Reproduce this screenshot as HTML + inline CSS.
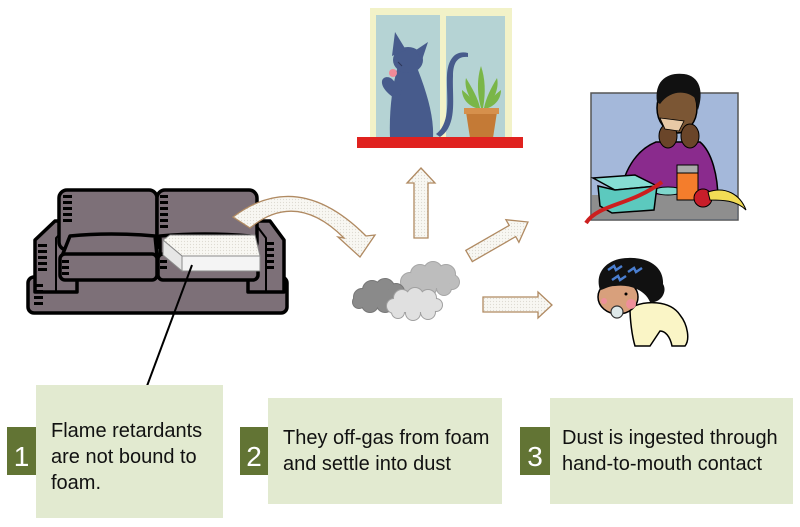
<!DOCTYPE html>
<html><head><meta charset="utf-8"><style>
html,body{margin:0;padding:0;background:#fff;}
svg{display:block;}
text{font-family:"Liberation Sans",Arial,sans-serif;}
</style></head><body>
<svg width="800" height="527" viewBox="0 0 800 527" xmlns="http://www.w3.org/2000/svg">
<defs>
<pattern id="dots" width="3" height="3" patternUnits="userSpaceOnUse">
<rect width="3" height="3" fill="#f8f7f2"/><circle cx="1.5" cy="1.5" r="0.6" fill="#dedbd2"/>
</pattern>
</defs>

<!-- WINDOW -->
<rect x="370" y="8" width="142" height="131" fill="#f2f2c8"/>
<rect x="376" y="15" width="64" height="123" fill="#b5d3d4"/>
<rect x="446" y="16" width="59" height="122" fill="#b5d3d4"/>
<!-- cat -->
<g fill="#475b8c">
<path d="M436,134 C452,122 446,95 447,75 C448,58 456,50 468,53 L468,57 C458,56 453,62 453,76 C452,98 458,125 440,137 Z"/>
<path d="M398,66 C392,86 389,112 390,138 L433,138 C434,118 428,96 418,70 Z"/>
<ellipse cx="408" cy="60" rx="15" ry="13"/>
<path d="M395,32 L392,56 L406,50 Z"/>
<path d="M428,42 L416,50 L422,60 Z"/>
<path d="M398,100 C390,96 381,88 382,81 C383,76 390,76 393,80 L402,90 Z"/>
</g>
<circle cx="393" cy="73" r="4" fill="#f08a98"/>
<path d="M398,62 L402,66" stroke="#2b3658" stroke-width="1"/>
<!-- plant -->
<g fill="#7ab648">
<path d="M481,108 C476,90 478,75 481,66 C485,78 486,92 483,108 Z"/>
<path d="M478,108 C468,98 464,86 466,78 C472,88 478,98 480,108 Z"/>
<path d="M486,108 C496,98 499,86 497,78 C491,88 486,98 484,108 Z"/>
<path d="M476,108 C465,104 462,96 462,90 C470,96 474,102 478,108 Z"/>
<path d="M488,108 C498,104 501,96 501,90 C493,96 489,102 486,108 Z"/>
</g>
<path d="M466,112 L497,112 L493,138 L470,138 Z" fill="#c47a36"/>
<rect x="464" y="108" width="35" height="6" fill="#d6904c"/>
<rect x="357" y="137" width="166" height="11" fill="#e0221f"/>

<!-- COUCH -->
<g stroke="#000" stroke-width="3.5" stroke-linejoin="round" fill="#7d7078">
<rect x="28" y="277" width="259" height="36" rx="6"/>
<path d="M35,240 L55,221 L72,221 Q77,221 77,226 L77,292 L35,292 Z"/>
<path d="M35,240 L55,221 L72,221 L56,238 L56,292" fill="none" stroke-width="2"/>
<path d="M284,240 L270,221 L253,221 Q248,221 248,226 L248,292 L284,292 Z"/>
<path d="M284,240 L270,221 L253,221 L266,238 L266,292" fill="none" stroke-width="2"/>
<rect x="59" y="190" width="98" height="60" rx="8"/>
<rect x="157" y="190" width="100" height="60" rx="8"/>
<path d="M70,236 Q110,232 155,236 L157,256 L62,256 Z"/>
<rect x="60" y="254" width="97" height="26" rx="5"/>
<path d="M160,236 Q205,232 250,236 L257,256 L160,256 Z"/>
<rect x="158" y="254" width="100" height="26" rx="5"/>
</g>
<g fill="#000">
<rect x="63" y="195" width="9" height="3"/><rect x="63" y="201" width="9" height="3"/><rect x="63" y="207" width="9" height="3"/><rect x="63" y="213" width="9" height="3"/><rect x="63" y="219" width="9" height="3"/>
<rect x="160" y="195" width="8" height="3"/><rect x="160" y="201" width="8" height="3"/><rect x="160" y="207" width="8" height="3"/><rect x="160" y="213" width="8" height="3"/><rect x="160" y="219" width="8" height="3"/><rect x="160" y="225" width="8" height="3"/>
<rect x="38" y="244" width="9" height="3"/><rect x="38" y="250" width="9" height="3"/><rect x="38" y="256" width="9" height="3"/><rect x="38" y="262" width="9" height="3"/><rect x="38" y="268" width="9" height="3"/>
<rect x="266" y="242" width="8" height="3"/><rect x="266" y="248" width="8" height="3"/><rect x="266" y="254" width="8" height="3"/><rect x="266" y="260" width="8" height="3"/><rect x="266" y="266" width="8" height="3"/>
<rect x="62" y="260" width="7" height="3"/><rect x="62" y="266" width="7" height="3"/><rect x="62" y="272" width="7" height="3"/>
<rect x="160" y="260" width="7" height="3"/><rect x="160" y="266" width="7" height="3"/>
<rect x="34" y="284" width="9" height="3"/><rect x="34" y="290" width="9" height="3"/><rect x="34" y="296" width="9" height="3"/><rect x="34" y="302" width="9" height="3"/>
</g>
<!-- foam block -->
<g stroke="#8a8a8a" stroke-width="1" fill="url(#dots)">
<path d="M163,240 L170,235 L255,235 L260,256 L182,256 Z"/>
<path d="M163,240 L182,256 L182,271 L163,255 Z" fill="#e6e6e6"/>
<path d="M182,256 L260,256 L260,271 L182,271 Z" fill="#f4f4f4"/>
</g>
<line x1="192" y1="265" x2="147" y2="386" stroke="#000" stroke-width="2"/>

<!-- ARROWS -->
<g fill="url(#dots)" stroke="#b08a62" stroke-width="1.3" stroke-linejoin="miter">
<path d="M233,217 Q298,168 366,236 L375,235 L360,257 L338,237 L344,238 Q296,190 250,228 Z"/>
<path d="M421,168 L435,183 L428,183 L428,238 L414,238 L414,183 L407,183 Z"/>
<path d="M528,222 L518.9,242.3 L515.7,236.6 L472.3,261.6 L465.8,250.4 L509.2,225.4 L505.9,219.7 Z"/>
<path d="M483,297 L538,297 L538,292 L552,305 L538,318 L538,312 L483,312 Z"/>
</g>

<!-- CLOUDS -->
<g fill="#bdbdbd" stroke="#a6a6a6" stroke-width="2">
<circle cx="410" cy="282" r="9"/><circle cx="420" cy="274" r="9"/><circle cx="433" cy="271" r="9"/><circle cx="446" cy="274" r="9"/><circle cx="452" cy="282" r="7"/><circle cx="444" cy="288" r="7"/><circle cx="428" cy="288" r="8"/><circle cx="414" cy="288" r="7"/>
</g>
<g fill="#bdbdbd">
<circle cx="410" cy="282" r="9"/><circle cx="420" cy="274" r="9"/><circle cx="433" cy="271" r="9"/><circle cx="446" cy="274" r="9"/><circle cx="452" cy="282" r="7"/><circle cx="444" cy="288" r="7"/><circle cx="428" cy="288" r="8"/><circle cx="414" cy="288" r="7"/><rect x="412" y="272" width="36" height="16"/>
</g>
<g fill="#8a8a8a" stroke="#777" stroke-width="2">
<circle cx="362" cy="297" r="8"/><circle cx="372" cy="290" r="9"/><circle cx="385" cy="288" r="9"/><circle cx="396" cy="292" r="8"/><circle cx="398" cy="300" r="7"/><circle cx="385" cy="304" r="8"/><circle cx="370" cy="304" r="8"/><circle cx="359" cy="302" r="6"/>
</g>
<g fill="#8a8a8a">
<circle cx="362" cy="297" r="8"/><circle cx="372" cy="290" r="9"/><circle cx="385" cy="288" r="9"/><circle cx="396" cy="292" r="8"/><circle cx="398" cy="300" r="7"/><circle cx="385" cy="304" r="8"/><circle cx="370" cy="304" r="8"/><circle cx="359" cy="302" r="6"/><rect x="364" y="290" width="32" height="14"/>
</g>
<g fill="#e0e0e0" stroke="#a0a0a0" stroke-width="2">
<circle cx="394" cy="306" r="7"/><circle cx="402" cy="298" r="8"/><circle cx="415" cy="296" r="8"/><circle cx="428" cy="298" r="8"/><circle cx="436" cy="305" r="6"/><circle cx="428" cy="312" r="7"/><circle cx="413" cy="313" r="7"/><circle cx="398" cy="312" r="6"/>
</g>
<g fill="#e0e0e0">
<circle cx="394" cy="306" r="7"/><circle cx="402" cy="298" r="8"/><circle cx="415" cy="296" r="8"/><circle cx="428" cy="298" r="8"/><circle cx="436" cy="305" r="6"/><circle cx="428" cy="312" r="7"/><circle cx="413" cy="313" r="7"/><circle cx="398" cy="312" r="6"/><rect x="396" y="298" width="36" height="14"/>
</g>

<!-- MAN -->
<rect x="591" y="93" width="147" height="127" fill="#a4b8da" stroke="#555" stroke-width="1.5"/>
<path d="M620,200 C622,172 636,150 656,142 L700,142 C712,152 718,176 718,200 Z" fill="#8a2b8d" stroke="#000" stroke-width="1.5"/>
<ellipse cx="677" cy="108" rx="20" ry="25" fill="#7b5634" stroke="#000" stroke-width="1.5"/>
<path d="M657,102 C654,80 668,72 684,74 C700,76 704,92 698,110 L695,98 C686,90 670,90 660,104 Z" fill="#111"/>
<ellipse cx="668" cy="136" rx="9" ry="12" fill="#6a4529" stroke="#000" stroke-width="1"/>
<ellipse cx="690" cy="136" rx="9" ry="12" fill="#6a4529" stroke="#000" stroke-width="1"/>
<path d="M660,118 L684,121 L679,131 L665,129 Z" fill="#e8c9a6" stroke="#000" stroke-width="0.8"/>
<rect x="592" y="195" width="145" height="24" fill="#8e8e8e"/>
<ellipse cx="668" cy="191" rx="14" ry="4" fill="#7fd6cc" stroke="#000" stroke-width="1"/>
<path d="M593,178 L635,175 L657,186 L615,190 Z" fill="#86ddd3" stroke="#000" stroke-width="1.5"/>
<path d="M598,186 L615,190 L657,186 L654,210 L612,213 L600,206 Z" fill="#5cc9be" stroke="#000" stroke-width="1.5"/>
<path d="M586,223 C598,204 630,206 662,182" fill="none" stroke="#cc1f1f" stroke-width="4"/>
<rect x="677" y="168" width="21" height="32" fill="#f47d2c" stroke="#000" stroke-width="1"/>
<rect x="677" y="165" width="21" height="8" fill="#aaa" stroke="#000" stroke-width="1"/>
<circle cx="703" cy="198" r="9" fill="#c81e2a" stroke="#000" stroke-width="1"/>
<path d="M708,192 C725,186 740,194 746,210 C736,200 722,200 710,200 Z" fill="#f2dc55" stroke="#000" stroke-width="1"/>

<!-- BABY -->
<path d="M630,308 C645,300 670,300 680,315 C688,325 690,340 685,346 L672,346 C670,336 665,331 660,331 L650,346 L635,346 C632,336 630,320 630,308 Z" fill="#faf5c6" stroke="#000" stroke-width="1.5"/>
<ellipse cx="618" cy="297" rx="20" ry="17" fill="#d8a07c" stroke="#000" stroke-width="1.5"/>
<path d="M600,290 C594,272 608,258 628,258 C650,257 664,268 663,284 C668,292 660,304 650,302 C645,290 630,284 615,286 C608,286 603,290 600,290 Z" fill="#111"/>
<g stroke="#4a7ecf" stroke-width="2.5" fill="none">
<path d="M608,270 L614,266 L616,270 L622,266"/><path d="M612,280 L618,276 L620,280 L626,276"/><path d="M628,272 L634,268 L636,272 L642,268"/>
</g>
<circle cx="631" cy="304" r="5" fill="#ee8f9a"/>
<circle cx="604" cy="301" r="3" fill="#ee8f9a"/>
<circle cx="626" cy="294" r="1.5" fill="#000"/>
<circle cx="617" cy="312" r="6" fill="#dfe9ea" stroke="#333" stroke-width="1.2"/>

<!-- BOXES -->
<rect x="36" y="385" width="187" height="133" fill="#e2ead0"/>
<rect x="7" y="427" width="29" height="48" fill="#627434"/>
<text x="21.5" y="466" font-size="28" fill="#fff" text-anchor="middle">1</text>
<text font-size="20" fill="#111"><tspan x="51" y="437">Flame retardants</tspan><tspan x="51" y="463">are not bound to</tspan><tspan x="51" y="489">foam.</tspan></text>

<rect x="268" y="398" width="234" height="106" fill="#e2ead0"/>
<rect x="240" y="427" width="28" height="48" fill="#627434"/>
<text x="254" y="466" font-size="28" fill="#fff" text-anchor="middle">2</text>
<text font-size="20" fill="#111"><tspan x="283" y="444">They off-gas from foam</tspan><tspan x="283" y="470">and settle into dust</tspan></text>

<rect x="550" y="398" width="243" height="106" fill="#e2ead0"/>
<rect x="520" y="427" width="30" height="48" fill="#627434"/>
<text x="535" y="466" font-size="28" fill="#fff" text-anchor="middle">3</text>
<text font-size="20" fill="#111"><tspan x="562" y="444">Dust is ingested through</tspan><tspan x="562" y="470">hand-to-mouth contact</tspan></text>
</svg>
</body></html>
